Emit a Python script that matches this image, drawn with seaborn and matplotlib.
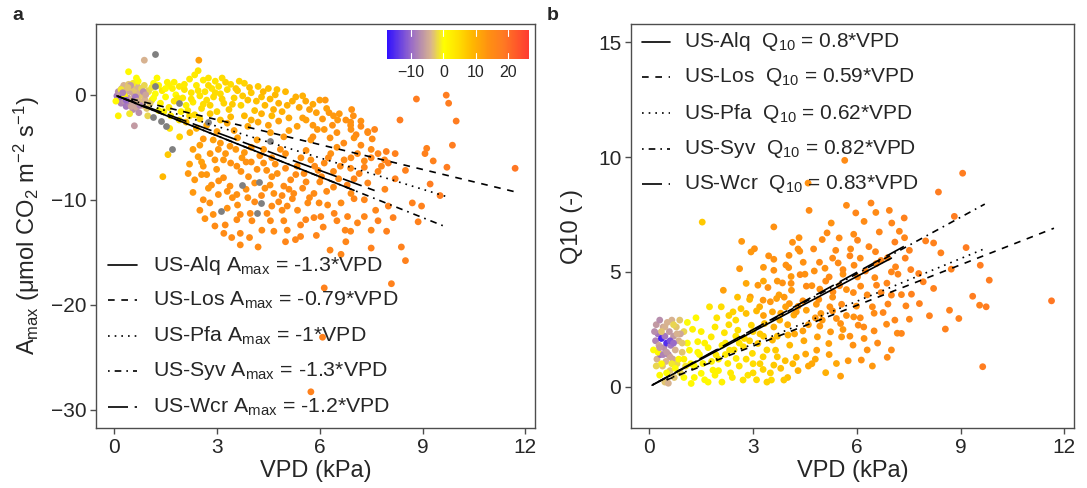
import numpy as np
import pandas as pd
import matplotlib
matplotlib.use("Agg")
import matplotlib.pyplot as plt
import seaborn as sns
from matplotlib.colors import LinearSegmentedColormap, Normalize
from matplotlib.cm import ScalarMappable

sns.set_style("ticks")
plt.rcParams["font.family"] = ["Liberation Sans", "DejaVu Sans"]
plt.rcParams["mathtext.fontset"] = "custom"
plt.rcParams["mathtext.rm"] = "Liberation Sans"
plt.rcParams["mathtext.it"] = "Liberation Sans:italic"
plt.rcParams["mathtext.default"] = "regular"

# ---------------- regression lines ----------------
sites = ["US-Alq", "US-Los", "US-Pfa", "US-Syv", "US-Wcr"]
slope_amax = [-1.3, -0.79, -1.0, -1.3, -1.2]
slope_q10 = [0.8, 0.59, 0.62, 0.82, 0.83]
slope_amax_txt = ["-1.3", "-0.79", "-1", "-1.3", "-1.2"]
slope_q10_txt = ["0.8", "0.59", "0.62", "0.82", "0.83"]
vpd_start = [0.08, 0.5, 0.5, 0.1, 0.1]
vpd_end_a = [7.0, 11.7, 9.7, 9.7, 7.6]
vpd_end_b = [7.0, 11.7, 9.7, 9.7, 7.5]

# ---------------- panel a points: (VPD, Amax, temperature) ----------------
a_cold = [(0.08,-0.1,-9),(0.12,0.3,-7),(0.15,-0.4,-10),(0.18,0.1,-6),(0.2,-0.8,-8),(0.22,0.6,-5),
          (0.25,-0.2,-12),(0.28,0.9,-4),(0.3,-0.6,-7),(0.32,0.2,-5),(0.35,-1.1,-9),(0.38,0.5,-4),
          (0.4,-0.3,-6),(0.42,1.0,-3),(0.45,-0.9,-8),(0.48,0.3,-5),(0.5,-0.5,-4),(0.52,0.7,-3),
          (0.55,-1.4,-7),(0.58,0.0,-5),(0.6,-0.8,-6),(0.62,0.4,-3),(0.65,-1.2,-5),(0.68,0.8,-4),
          (0.7,-0.3,-3),(0.72,-1.7,-7),(0.75,0.2,-4),(0.78,-0.7,-3),(0.8,0.6,-2),(0.82,-1.0,-4),
          (0.85,-0.1,-3),(0.88,0.9,-2),(0.9,-0.5,-4),(0.95,-1.3,-3),(1.0,0.4,-2),(1.05,-0.8,-3),
          (0.59,-2.95,-6),(0.88,3.3,-4),(0.3,-0.1,1),(0.05,-0.6,1),(0.12,-2.0,2),(0.42,2.2,1),
          (0.65,1.6,0),(0.2,0.5,-1),(0.55,1.1,-1),(1.1,0.7,-1),(0.7,1.3,0),(1.15,-0.3,0),
          (0.98,-2.0,-2),(0.45,-1.8,-1),(0.25,0.2,-8),(0.35,-0.5,-10),(0.48,0.9,-6),(0.62,-0.2,-9),
          (0.75,-1.0,-8),(0.85,0.3,-7),(0.5,-1.1,-5),(0.4,0.7,-3),(0.68,-0.6,-4),(0.92,0.0,-5)]
a_na = [(1.18,3.9),(1.12,-2.1),(1.37,-2.5),(1.5,-2.95),(1.7,-5.2),(1.9,-0.8),(2.74,-2.6),
        (4.56,-4.4),(3.72,-8.6),(4.24,-8.3),(4.28,-10.3),(3.12,-11.1),(4.17,-11.3),(1.18,0.8)]
a_yellow = [(1.0,0.3,1),(1.1,-0.5,2),(1.2,0.1,0),(1.3,0.9,1),(1.35,-0.8,2),(1.4,0.4,3),(1.5,-0.2,1),
            (1.55,1.2,2),(1.6,-1.2,3),(1.7,0.6,2),(1.75,-0.6,4),(1.8,0.0,1),(1.9,0.8,3),(1.95,-1.6,2),
            (2.0,-0.3,3),(2.05,0.5,4),(2.1,-1.0,2),(2.2,1.5,3),(2.25,0.2,4),(2.3,-0.7,3),(2.35,-1.9,5),
            (2.4,0.9,3),(2.5,-0.1,4),(2.55,-1.3,5),(2.6,1.4,3),(2.65,0.3,4),(2.7,-0.5,5),(2.8,-1.0,6),
            (2.85,0.6,4),(2.9,-0.2,5),(3.0,-1.6,6),(3.05,0.8,4),(3.1,0.1,5),(3.2,-0.8,6),(3.3,0.5,5),
            (3.35,-1.4,7),(3.4,1.0,5),(3.5,-0.3,6),(3.6,0.4,7),(3.7,-1.0,6),(3.8,1.1,6),(3.9,-0.5,8),
            (4.0,0.2,7),(4.1,-1.5,8),(4.2,0.8,7),(4.3,-0.2,8),(4.4,-1.0,9),(4.5,0.6,8),(4.6,-2.0,9),
            (4.7,0.0,9),(4.8,-0.8,10),(4.9,-1.6,10),(5.0,0.3,9),(5.1,-2.2,11),(5.2,-0.6,10),
            (5.4,-1.2,11),(5.5,-0.1,10),(5.6,-2.4,12),(5.8,-0.9,11),(5.9,-1.7,12),(6.0,-0.5,12),
            (6.2,-1.3,12),(6.4,-2.0,13),(6.5,-3.6,14),(6.9,-2.6,14),(7.0,-4.1,14),(7.2,-3.0,15),
            (7.6,-3.3,16),(1.25,1.6,1),(2.45,2.3,4),(1.75,1.2,2),(2.95,1.3,4),(2.15,-1.5,3),
            (1.45,-1.6,2),(4.75,0.5,8),(3.65,1.3,6),(2.47,3.3,12),
            (1.6,0.9,2),(1.85,-0.3,3),(2.05,1.0,3),(2.25,-0.4,4),(2.45,0.4,4),(2.6,-0.9,5),(2.75,0.9,5),
            (2.95,0.2,5),(3.15,-0.4,6),(3.25,1.2,6),(3.45,-0.9,7),(3.55,0.6,7),(3.75,-0.1,7),(3.95,0.7,8),
            (4.15,-0.6,8),(4.35,0.3,9),(4.55,-0.4,9),(4.65,-1.4,10),(5.05,-1.0,10),(5.3,-0.2,10),
            (1.3,-1.5,1),(1.65,-2.0,3),(1.9,-2.4,4),(2.2,-2.0,5),(2.5,-2.3,6),(2.8,-1.8,7),(3.1,-2.4,8),
            (3.4,-2.1,9),(3.8,-2.0,9),(4.0,-2.4,10),(4.3,-1.8,10),(1.5,0.6,1),(1.15,1.1,0),(2.35,1.9,3),
            (2.75,1.6,4),(3.15,1.6,5)]
a_mid = [(2.21,-3.6,10),(2.5,-4.8,12),(2.45,-5.9,12),(2.89,-4.3,12),(3.04,-5.2,13),(2.94,-6.2,13),
         (2.99,-7.1,13),(2.7,-7.6,13),(3.19,-7.9,14),(3.38,-8.7,14),(3.58,-6.8,14),(3.73,-6.0,13),
         (3.92,-7.8,14),(4.17,-7.1,14),(4.36,-6.5,14),(4.36,-5.2,13),(4.6,-6.0,14),(4.76,-7.5,14),
         (4.95,-8.7,15),(5.15,-8.1,15),(5.24,-9.4,15),(5.34,-6.8,14),(5.54,-7.5,15),(5.74,-6.2,14),
         (5.95,-7.2,15),(6.13,-6.5,15),(6.32,-5.6,14),(6.5,-5.0,14),(6.71,-6.2,15),(6.9,-7.0,15),
         (7.1,-5.6,15),(7.3,-6.3,15),(7.5,-5.2,15),(7.7,-7.3,16),(7.89,-6.2,16),(4.17,-4.3,12),
         (4.56,-3.6,12),(4.95,-4.0,13),(5.34,-3.0,12),(5.74,-4.3,13),(6.13,-3.3,13),(6.52,-2.4,13),
         (6.9,-2.9,14),(7.2,-2.5,14),(7.4,-3.6,15),(3.38,-4.9,13),(3.6,-4.1,12),(3.8,-5.5,13),
         (3.19,-6.2,13),(2.79,-10.3,14),(1.57,-5.7,7),(1.91,-4.0,6),(1.62,-3.2,4),(2.1,-2.6,8),
         (2.4,-3.2,10),(2.7,-2.9,11),(3.0,-3.5,12),(3.3,-2.7,11),(3.5,-3.4,12),(3.9,-3.0,11),
         (4.2,-2.6,11),(4.5,-2.9,12),(4.8,-2.5,12),(5.1,-3.4,12),(5.5,-2.2,12),(5.8,-2.9,13),
         (4.0,-6.4,14),(4.6,-7.8,14),(5.0,-5.6,14),(5.6,-5.3,14),(6.0,-8.3,15),(6.4,-7.3,15),
         (2.6,-6.8,13),(3.45,-9.8,14),(4.8,-10.2,15),
         (2.6,-4.2,13),(2.8,-5.6,13),(3.1,-4.6,13),(3.25,-5.6,13),(3.4,-6.5,14),(3.55,-5.2,13),
         (3.7,-7.3,14),(3.85,-6.4,14),(4.0,-5.0,13),(4.1,-8.4,14),(4.25,-5.8,14),(4.45,-7.2,14),
         (4.55,-8.6,14),(4.7,-6.6,14),(4.85,-5.2,14),(5.0,-7.0,15),(5.1,-9.0,15),(5.3,-7.6,15),
         (5.45,-6.0,14),(5.6,-8.3,15),(5.7,-9.8,15),(5.85,-6.8,15),(6.05,-7.8,15),(6.2,-9.2,15),
         (6.25,-6.0,15),(6.55,-8.0,15),(6.6,-6.8,15),(6.8,-8.6,16),(7.0,-9.9,16),(7.15,-7.5,16),
         (2.3,-5.2,12),(2.55,-6.4,12),(2.2,-6.6,12),(2.75,-8.9,13),(3.05,-8.2,14),(3.3,-9.2,14)]
a_low = [(1.42,-7.8,9),(2.16,-7.5,13),(2.35,-8.1,13),(2.55,-7.6,13),(2.5,-11.0,14),(2.65,-11.8,14),
         (2.94,-12.5,15),(2.84,-8.6,14),(3.04,-9.5,14),(3.24,-12.4,15),(3.43,-13.6,15),(3.68,-14.3,15),
         (3.58,-9.5,14),(3.68,-11.4,15),(3.95,-13.6,15),(4.02,-12.0,15),(4.31,-12.9,15),(4.56,-12.0,15),
         (4.95,-12.0,15),(5.05,-10.6,15),(5.29,-13.8,16),(5.44,-13.5,16),(5.59,-11.9,16),(5.83,-11.7,16),
         (6.03,-11.6,16),(6.13,-18.4,17),(6.08,-23.1,17),(5.74,-28.3,17),(6.62,-15.2,16),(6.76,-14.0,16),
         (7.5,-14.6,17),(8.09,-18.0,17),(8.38,-14.5,17),(8.5,-15.8,17),(8.14,-11.7,17),(8.87,-12.1,17),
         (8.97,-10.6,17),(8.7,-10.3,17),(9.22,-8.5,18),(9.51,-9.6,18),(7.63,-11.0,16),(7.3,-11.6,16),
         (6.81,-11.6,16),(7.5,-12.9,16),(7.3,-10.0,16),(6.74,-12.9,16),(6.42,-11.3,16),(6.23,-10.5,15),
         (5.98,-10.3,15),(5.44,-12.4,16),(5.05,-12.9,15),(4.66,-13.0,15),(4.46,-11.3,15),(3.97,-11.3,15),
         (3.58,-11.9,15),(2.89,-11.4,14),(2.6,-10.0,14),(3.68,-13.2,15),(4.9,-11.0,15),(4.66,-9.4,14),
         (5.83,-9.4,15),(6.62,-10.3,15),(6.91,-9.4,15),(7.4,-8.4,16),(5.2,-9.9,15),(4.1,-10.2,15),
         (3.3,-10.8,14),(6.4,-8.8,15),(5.5,-8.9,15),(4.4,-8.9,14),(3.9,-9.8,14),(2.3,-9.3,13),
         (7.0,-8.0,16),(7.9,-9.0,16),(8.2,-8.0,17),(8.5,-7.2,17),
         (3.6,-10.5,14),(3.85,-9.0,14),(4.3,-9.6,15),(4.6,-10.6,15),(4.9,-9.6,15),(5.35,-11.0,15),
         (5.65,-10.3,15),(6.1,-12.6,16),(6.5,-12.0,16),(6.9,-13.0,16),(7.1,-12.2,16),(7.7,-12.0,17),
         (8.0,-10.6,17),(7.95,-13.0,17),(5.0,-14.0,16),(4.2,-14.5,15),(3.2,-13.2,15),(5.9,-13.4,16),
         (6.3,-14.8,16)]
a_right = [(8.82,-0.4,18),(9.69,-0.03,18),(9.76,-0.8,18),(8.34,-2.4,18),(9.98,-2.5,18),(9.87,-4.8,18),
           (9.12,-5.1,17),(9.07,-5.6,17),(9.31,-6.3,17),(9.71,-6.9,18),(11.7,-7.0,19),(8.2,-5.6,17),
           (7.94,-5.4,17),(7.7,-5.6,16),(6.16,-0.5,13),(5.59,-0.6,11),(5.7,-1.4,12),(6.27,-1.7,13),
           (6.93,-1.4,14),(6.98,-2.0,14),(6.57,-1.8,13),(6.76,-2.4,14),(6.08,-2.3,13),(6.37,-2.9,14),
           (5.93,-3.3,13),(6.91,-3.3,14),(7.4,-3.5,15),(7.53,-4.2,15),(7.06,-3.8,15),(6.7,-4.6,15),
           (7.5,-6.0,16),(7.8,-6.8,16),(6.91,-6.0,15),(5.8,-4.0,14),(6.3,-4.1,14),(7.2,-4.8,15),
           (8.0,-6.5,17),(7.3,-6.9,16)]

# ---------------- panel b points: (VPD, Q10, temperature) ----------------
b_cold = [(0.12,1.6,0),(0.18,2.0,-8),(0.2,2.7,-6),(0.22,1.2,-4),(0.25,2.3,-9),(0.28,1.8,-5),
          (0.3,2.9,-7),(0.32,1.4,-10),(0.35,2.1,-16),(0.38,0.9,-3),(0.4,2.6,-5),(0.42,1.7,-7),
          (0.45,2.2,-9),(0.48,1.1,-4),(0.5,1.9,-15),(0.52,2.8,-4),(0.55,1.4,-8),(0.58,2.4,-6),
          (0.6,0.7,-3),(0.62,1.8,-9),(0.65,2.9,-4),(0.68,1.2,-5),(0.7,2.2,-6),(0.72,0.4,-3),
          (0.75,1.6,-4),(0.78,2.6,-3),(0.8,1.0,-2),(0.85,2.0,-4),(0.88,2.9,-3),(0.9,0.6,-2),
          (0.95,1.5,-3),(1.0,2.4,-2),(1.05,0.9,-1),(0.3,0.5,1),(0.45,0.2,-3),(0.55,0.15,-4),
          (0.15,2.4,-7),(0.35,1.0,1),(0.5,0.6,0),(0.65,1.0,-1),(0.25,1.5,1),(0.6,2.0,-12),
          (0.7,1.9,-10),(0.4,1.4,-8),(0.85,1.2,1),(1.1,1.9,0),(1.0,1.2,2),(0.9,2.3,-5),
          (0.2,0.9,-2),(0.75,0.8,0),(0.3,1.7,-6),(0.45,2.6,-4),(0.6,1.3,-5),(0.8,2.3,-4),
          (0.35,2.4,-3),(0.7,2.7,-2),(0.5,1.5,-6),(0.95,1.9,-3)]
b_yellow = [(1.3,0.9,1),(1.45,1.4,2),(1.6,0.3,1),(1.7,1.7,2),(1.9,0.5,2),(2.0,1.2,3),(2.1,0.2,2),
            (2.2,1.9,3),(2.35,0.6,3),(2.45,1.6,4),(2.6,0.9,4),(2.75,2.1,5),(2.85,0.5,4),(3.0,1.0,5),
            (3.1,0.3,5),(3.2,2.3,7),(3.4,1.6,6),(3.5,0.6,6),(3.7,1.3,7),(3.8,0.8,8),(4.0,0.4,8),
            (4.15,1.0,9),(4.3,0.7,10),(4.6,0.9,11),(4.8,1.2,11),(3.0,2.4,6),(2.5,2.9,5),(2.3,3.1,6),
            (1.9,2.6,3),(1.25,2.5,2),(1.35,3.0,1),(1.1,2.8,0),(1.5,2.4,2),(2.9,3.8,9),(2.55,3.9,8),
            (3.3,4.6,11),(3.1,3.3,9),(3.75,4.0,12),(4.1,4.8,13),(3.95,5.3,14),(4.75,6.0,15),
            (5.3,5.6,15),(5.8,5.7,16),(6.35,6.1,16),(6.7,5.5,16),(7.1,6.3,17),(4.35,5.9,14),
            (3.45,5.7,14),(3.53,0.29,5),(2.71,0.29,4),(3.89,0.29,7),(1.21,0.14,1),(1.5,0.58,1),
            (1.84,0.72,2),(2.27,1.01,3),(2.51,1.23,3),(2.98,1.45,5),(3.29,1.30,6),(3.65,1.59,7),
            (1.93,1.38,3),(1.55,1.01,2),(2.32,1.59,4),(2.72,1.74,5),(3.14,1.88,7),(3.56,2.03,9),
            (1.16,1.59,1),(1.40,1.96,2),(1.79,2.17,3),(2.17,2.35,4),(2.56,2.46,5),(2.95,2.68,6),
            (3.33,2.75,8),(2.08,3.48,5),(1.74,3.48,4),(2.42,3.26,6),(2.80,3.19,8),(3.29,0.75,6),
            (3.60,0.94,7),(3.93,1.13,8),(4.25,1.28,9),
            (1.2,1.0,1),(1.4,1.5,1),(1.6,1.9,2),(1.8,1.1,2),(2.0,0.7,2),(2.2,1.4,3),(2.4,0.4,3),
            (2.6,1.9,4),(2.8,1.2,5),(3.0,0.6,5),(3.2,1.0,6),(3.4,0.2,6),(1.3,0.4,1),(1.7,0.2,1),
            (2.1,1.8,3),(2.5,2.2,4),(2.9,2.0,6),(3.3,2.2,7),(3.7,2.2,8),(1.0,0.4,0),(1.95,3.0,4),
            (2.3,2.7,5),(2.65,3.4,7)]
b_cloud = [(5.65,9.86,15),(9.06,9.30,18),(8.36,8.48,18),(4.59,8.87,14),(1.53,7.17,7),(4.62,7.68,15),
           (6.41,8.00,16),(5.70,7.90,15),(5.97,7.57,16),(6.55,7.59,15),(6.94,7.68,16),(7.37,7.35,17),
           (7.01,7.13,16),(6.21,7.20,15),(5.26,7.13,14),(8.82,7.42,18),(3.60,6.96,14),(7.23,6.77,16),
           (6.65,6.74,16),(5.91,6.64,15),(5.14,6.70,15),(2.67,6.33,13),(4.33,6.49,14),(4.14,6.29,14),
           (5.00,6.41,15),(5.49,6.48,15),(6.02,6.38,16),(7.38,6.49,16),(7.99,6.35,17),(9.16,6.06,18),
           (3.04,6.01,14),(2.94,5.87,13),(5.39,5.94,15),(5.82,6.00,15),(6.54,5.88,16),(6.89,5.62,16),
           (7.52,5.94,17),(8.22,6.26,17),(8.43,5.83,17),(4.04,5.72,14),(3.60,5.55,14),(4.45,5.42,14),
           (4.92,5.42,15),(5.08,5.16,14),(5.46,5.39,15),(5.92,5.29,15),(6.25,5.04,16),(6.56,5.36,15),
           (7.12,5.22,16),(7.56,5.10,17),(8.73,5.12,17),(9.57,5.29,18),(2.61,5.14,13),(3.60,5.07,14),
           (4.03,5.19,14),(4.36,4.88,15),(4.77,5.04,14),(5.20,4.78,15),(5.60,4.90,14),(6.02,4.78,15),
           (6.52,4.75,15),(6.87,4.51,16),(7.19,4.90,16),(7.79,4.93,17),(7.92,4.57,17),(9.83,4.64,18),
           (2.14,4.20,12),(3.14,4.42,13),(3.43,4.32,14),(3.85,4.52,14),(4.11,4.20,13),(4.54,4.38,15),
           (4.93,4.25,14),(5.31,4.13,15),(5.70,4.23,14),(6.11,4.38,15),(6.57,4.42,16),(7.00,3.99,16),
           (7.29,4.01,16),(7.58,4.03,17),(8.22,4.28,17),(2.92,3.91,12),(3.29,3.77,13),(3.68,3.84,12),
           (4.05,3.62,13),(4.44,3.74,14),(4.83,3.59,13),(5.22,3.48,14),(5.56,3.59,15),(5.99,3.51,14),
           (6.45,3.48,15),(6.76,3.23,16),(7.42,3.52,16),(7.81,3.62,17),(9.35,3.94,18),(9.55,3.55,17),
           (9.74,3.48,18),(11.63,3.74,19),(8.68,3.33,17),(8.95,2.97,17),(8.10,3.09,17),(8.56,2.51,17),
           (9.64,0.87,18),(7.52,2.94,16),(7.17,2.33,15),(6.86,2.72,15),(6.50,2.43,15),(6.21,2.10,14),
           (5.89,1.81,14),(5.56,2.17,13),(5.19,1.88,12),(4.84,1.59,12),(4.52,1.42,11),(5.10,0.61,10),
           (5.53,0.46,12),(5.41,1.01,11),(5.75,1.13,13),(6.13,1.16,14),(6.45,0.90,13),(6.88,1.28,15),
           (7.29,2.32,16),(6.04,2.68,15),(5.53,2.75,14),(4.93,2.64,13),(4.44,2.43,12),(4.01,2.25,10),
           (4.06,1.81,9),(4.47,2.00,11),(4.86,2.17,12),(5.24,2.39,13),(5.60,2.49,13),(5.91,3.04,14),
           (5.41,2.97,14),(4.96,3.19,13),(4.54,3.33,12),(4.18,3.12,11),(3.77,2.90,10),(3.19,3.48,10),
           (3.56,3.26,11),(3.94,3.48,12),(4.25,3.26,12),
           (3.3,3.1,12),(3.5,3.7,13),(3.7,4.6,13),(3.9,3.9,13),(4.1,4.5,14),(4.3,3.5,13),(4.5,4.9,14),
           (4.7,4.4,14),(4.9,3.8,14),(5.1,4.6,15),(5.3,3.9,14),(5.5,4.4,15),(5.7,3.1,14),(5.9,4.1,15),
           (6.1,3.0,15),(6.3,4.0,15),(6.5,3.2,15),(6.7,4.1,16),(6.9,3.6,16),(7.1,2.9,16),(4.6,2.7,12),
           (4.8,3.0,13),(5.0,2.9,13),(5.3,3.3,14),(3.8,3.2,11),(4.0,2.7,11),(4.2,2.3,11),(3.6,2.6,10),
           (5.8,2.2,14),(6.2,2.6,15),(6.6,1.9,15),(7.0,1.6,15),(5.2,1.4,12),(4.7,1.0,11),(6.3,1.6,14),
           (3.3,5.2,13),(2.8,4.5,11),(5.6,5.1,15),(6.1,5.6,15),(7.0,5.0,16),(7.4,5.6,17),(4.3,6.0,14)]

# ---------------- colour scale ----------------
temp_min, temp_max = -17.5, 26.6
colorbar_ticks = [-10, 0, 10, 20]
cmap = LinearSegmentedColormap.from_list("temp", [
    (0.00, "#3010ff"), (0.17, "#9a6cc8"), (0.31, "#d9b48e"), (0.40, "#ffff00"),
    (0.50, "#ffe000"), (0.60, "#ffb800"), (0.72, "#ff8f12"), (0.82, "#ff7a22"),
    (1.00, "#ff3a30")])
norm = Normalize(temp_min, temp_max)


def frame(groups):
    rows = []
    for g in groups:
        rows.extend(g)
    return pd.DataFrame(rows, columns=["vpd", "val", "temp"])


df_a = frame([a_low, a_mid, a_right, a_yellow, a_cold])
df_a_na = pd.DataFrame(a_na, columns=["vpd", "val"])
df_b = frame([b_cloud, b_yellow, b_cold])

fig = plt.figure(figsize=(10.87, 4.88), dpi=100)
W, H = 1087, 488
ax_a = fig.add_axes([96 / W, 1 - 428 / H, 439 / W, 404 / H])
ax_b = fig.add_axes([631 / W, 1 - 428 / H, 443 / W, 404 / H])

line_styles = ["-", (0, (4, 4)), (0, (1, 3)), (0, (1, 3, 4, 3)), (0, (12, 4))]
frame_col = "#4d4d4d"

for ax, df, slopes, ends in [(ax_a, df_a, slope_amax, vpd_end_a), (ax_b, df_b, slope_q10, vpd_end_b)]:
    sns.scatterplot(data=df, x="vpd", y="val", hue="temp", palette=cmap, hue_norm=norm,
                    s=24, linewidth=0, legend=False, ax=ax, zorder=2)
    for i in range(len(sites)):
        xs = np.array([vpd_start[i], ends[i]])
        ax.plot(xs, slopes[i] * xs, color="black", lw=1.2, ls=line_styles[i], zorder=3)
    ax.set_xlim(-0.53, 12.28)
    ax.set_xticks([0, 3, 6, 9, 12])
    ax.set_xlabel("VPD (kPa)", fontsize=17, labelpad=2)
    for sp in ax.spines.values():
        sp.set_visible(True)
        sp.set_color(frame_col)
        sp.set_linewidth(1.0)
    ax.tick_params(axis="both", labelsize=15, length=4, width=1, color=frame_col, pad=3)

sns.scatterplot(data=df_a_na, x="vpd", y="val", color="#808080", s=24, linewidth=0,
                legend=False, ax=ax_a, zorder=2)

ax_a.set_ylim(-31.75, 6.75)
ax_a.set_yticks([0, -10, -20, -30])
ax_a.set_ylabel("A$_{max}$ (μmol CO$_{2}$ m$^{-2}$ s$^{-1}$)", fontsize=17)
ax_a.yaxis.set_label_coords(-0.123, 0.5)
ax_b.set_ylim(-1.8, 15.8)
ax_b.set_yticks([0, 5, 10, 15])
ax_b.set_ylabel("Q10 (-)", fontsize=17)
ax_b.yaxis.set_label_coords(-0.109, 0.5)

# legends drawn as keys + text
ys_a = [0.403, 0.317, 0.228, 0.140, 0.052]
ys_b = [0.956, 0.868, 0.779, 0.691, 0.603]
for i in range(len(sites)):
    ax_a.plot([0.027, 0.093], [ys_a[i], ys_a[i]], transform=ax_a.transAxes, color="black",
              lw=1.2, ls=line_styles[i], zorder=4)
    ax_a.text(0.129, ys_a[i], f"{sites[i]} A$_{{max}}$ = {slope_amax_txt[i]}*VPD",
              transform=ax_a.transAxes, fontsize=15.3, va="center", ha="left", zorder=4)
    ax_b.plot([0.024, 0.087], [ys_b[i], ys_b[i]], transform=ax_b.transAxes, color="black",
              lw=1.2, ls=line_styles[i], zorder=4)
    ax_b.text(0.12, ys_b[i], f"{sites[i]}  Q$_{{10}}$ = {slope_q10_txt[i]}*VPD",
              transform=ax_b.transAxes, fontsize=15, va="center", ha="left", zorder=4)

# colour bar inside panel a
cax = fig.add_axes([387 / W, 1 - 59 / H, 142 / W, 29 / H])
cb = fig.colorbar(ScalarMappable(norm=norm, cmap=cmap), cax=cax, orientation="horizontal",
                  ticks=colorbar_ticks)
cb.outline.set_visible(False)
cax.tick_params(length=0, labelsize=11.5, pad=4)
cax.set_xticklabels([f"{t}".replace("-", "\u2212") for t in colorbar_ticks])
for t in colorbar_ticks:
    cax.plot([t, t], [0, 0.2], color="white", lw=0.8)
    cax.plot([t, t], [0.8, 1.0], color="white", lw=0.8)
cax.set_ylim(0, 1)

fig.text(18 / W, 1 - 15 / H, "a", fontsize=14, fontweight="bold", va="center", ha="center")
fig.text(553 / W, 1 - 15 / H, "b", fontsize=14, fontweight="bold", va="center", ha="center")

fig.savefig("out.png", dpi=100)
